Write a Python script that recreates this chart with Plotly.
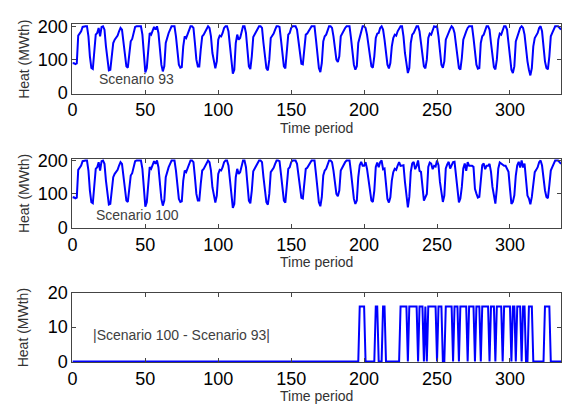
import plotly.graph_objects as go

# Hourly heat demand over a two-week horizon (MWth), scenario 93
heat_s93 = [
    88, 90, 87, 89, 172, 178, 185, 198, 200, 200, 200, 170, 110, 75, 72, 120,
    175, 180, 195, 170, 198, 200, 190, 140, 95, 68, 70, 110, 150, 160, 165, 172,
    185, 195, 190, 150, 110, 80, 76, 120, 155, 162, 180, 198, 200, 200, 200, 200,
    175, 110, 62, 75, 140, 180, 175, 185, 198, 190, 200, 180, 130, 85, 65, 80,
    150, 170, 180, 190, 200, 200, 200, 170, 120, 85, 76, 78, 140, 170, 165, 178,
    190, 200, 200, 195, 150, 100, 80, 80, 130, 170, 175, 185, 190, 200, 195, 170,
    120, 90, 74, 95, 160, 172, 170, 180, 195, 200, 200, 185, 140, 90, 58, 70,
    150, 175, 160, 165, 185, 200, 200, 180, 130, 80, 72, 110, 168, 175, 182, 190,
    200, 200, 195, 150, 100, 75, 68, 100, 165, 170, 178, 190, 200, 200, 198, 160,
    110, 80, 74, 120, 175, 180, 195, 200, 200, 200, 190, 150, 110, 88, 86, 130,
    175, 178, 185, 195, 200, 200, 200, 160, 110, 75, 63, 90, 155, 170, 175, 190,
    200, 200, 195, 170, 130, 100, 93, 110, 170, 180, 185, 195, 200, 200, 200, 165,
    120, 85, 70, 80, 150, 170, 180, 200, 200, 195, 175, 140, 100, 80, 76, 110,
    165, 178, 180, 195, 200, 190, 160, 120, 85, 74, 90, 140, 165, 175, 172, 185,
    195, 200, 200, 170, 120, 80, 60, 75, 150, 175, 180, 190, 200, 200, 185, 150,
    110, 80, 74, 100, 165, 178, 175, 190, 200, 198, 200, 170, 120, 85, 76, 95,
    160, 172, 180, 192, 200, 195, 180, 140, 100, 75, 70, 105, 160, 175, 185, 195,
    200, 200, 200, 165, 115, 85, 73, 75, 150, 170, 175, 190, 200, 200, 190, 150,
    105, 78, 71, 100, 160, 178, 175, 188, 200, 200, 190, 150, 100, 70, 60, 80,
    155, 170, 180, 195, 200, 195, 175, 130, 95, 70, 53, 75, 140, 165, 172, 180,
    195, 200, 185, 140, 95, 75, 71, 110, 170, 180, 190, 200, 200, 200, 195, 190,
]

# Hours in which scenario 100 departs from scenario 93, and the size of the gap (MWth)
diff_hours = [
    197, 198, 199, 200, 208, 209, 213, 214,
    225, 226, 227, 228, 229, 231, 232, 233, 234, 235, 236, 238, 239, 240, 242,
    244, 245, 246, 247, 248, 249, 251, 252, 253, 256, 257, 258, 259, 260,
    262, 263, 264, 266, 267, 268, 269, 270, 272, 273, 274, 275, 277, 278, 279,
    281, 282, 283, 284, 285, 287, 288, 289, 291, 292, 293, 294,
    296, 297, 298, 299, 300, 302, 303, 305, 306, 307, 309, 310,
    313, 314, 315, 324, 325, 326, 327,
]
diff_size = 16

hours = list(range(len(heat_s93)))
gap = [diff_size if h in diff_hours else 0 for h in hours]
heat_s100 = [v - g if v + g > 200 else v + g for v, g in zip(heat_s93, gap)]
abs_diff = [abs(a - b) for a, b in zip(heat_s100, heat_s93)]

W, H = 562, 416
x_left, x_right = 68, 561
panels = [  # (top px, bottom px)
    (15, 88),
    (156, 229),
    (297, 370),
]

def ydom(top, bottom):
    return [1 - bottom / H, 1 - top / H]

line = dict(color="#0000ff", width=2)
fig = go.Figure()
fig.add_trace(go.Scatter(x=hours, y=heat_s93, mode="lines", line=line, xaxis="x", yaxis="y"))
fig.add_trace(go.Scatter(x=hours, y=heat_s100, mode="lines", line=line, xaxis="x2", yaxis="y2"))
fig.add_trace(go.Scatter(x=hours, y=abs_diff, mode="lines", line=line, xaxis="x3", yaxis="y3"))

tick_font = dict(family="Liberation Sans, Arial", size=18, color="black")
title_font = dict(family="Liberation Sans, Arial", size=14, color="#333333")

common_x = dict(
    range=[0, 335], domain=[x_left / W, x_right / W],
    tickvals=[0, 50, 100, 150, 200, 250, 300],
    ticks="inside", ticklen=4, tickcolor="#444", mirror="ticks",
    showline=True, linecolor="#444", linewidth=1, showgrid=False, zeroline=False,
    tickfont=tick_font,
)
common_y = dict(
    ticks="inside", ticklen=4, tickcolor="#444", mirror="ticks",
    showline=True, linecolor="#444", linewidth=1, showgrid=False, zeroline=False,
    tickfont=tick_font,
)

layout = dict(
    width=W, height=H, margin=dict(l=0, r=0, t=0, b=0),
    paper_bgcolor="white", plot_bgcolor="white", showlegend=False,
)
annotations = []
for i, (top, bottom) in enumerate(panels, start=1):
    sx = "" if i == 1 else str(i)
    xa = dict(common_x, anchor="y" + sx)
    ya = dict(common_y, anchor="x" + sx, domain=ydom(top, bottom))
    if i < 3:
        ya.update(range=[-2, 206], tickvals=[0, 100, 200])
    else:
        ya.update(range=[-0.2, 20], tickvals=[0, 10, 20])
    layout["xaxis" + sx] = xa
    layout["yaxis" + sx] = ya
    # axis titles placed in paper space below / left of each panel
    annotations.append(dict(
        text="Time period", x=(x_left + x_right) / 2 / W, y=1 - (bottom + 36) / H,
        xref="paper", yref="paper", xanchor="center", yanchor="middle",
        showarrow=False, font=title_font))
    annotations.append(dict(
        text="Heat (MWth)", x=19 / W, y=1 - (top + bottom) / 2 / H, textangle=-90,
        xref="paper", yref="paper", xanchor="center", yanchor="middle",
        showarrow=False, font=title_font))

ann_font = dict(family="Liberation Sans, Arial", size=14, color="#404040")
annotations += [
    dict(text="Scenario 93", x=17, y=42, xref="x", yref="y", xanchor="left",
         yanchor="middle", showarrow=False, font=ann_font),
    dict(text="Scenario 100", x=15, y=38, xref="x2", yref="y2", xanchor="left",
         yanchor="middle", showarrow=False, font=ann_font),
    dict(text="|Scenario 100 - Scenario 93|", x=13, y=7.6, xref="x3", yref="y3",
         xanchor="left", yanchor="middle", showarrow=False, font=ann_font),
]
layout["annotations"] = annotations

fig.update_layout(**layout)
fig.write_html("out.html")
